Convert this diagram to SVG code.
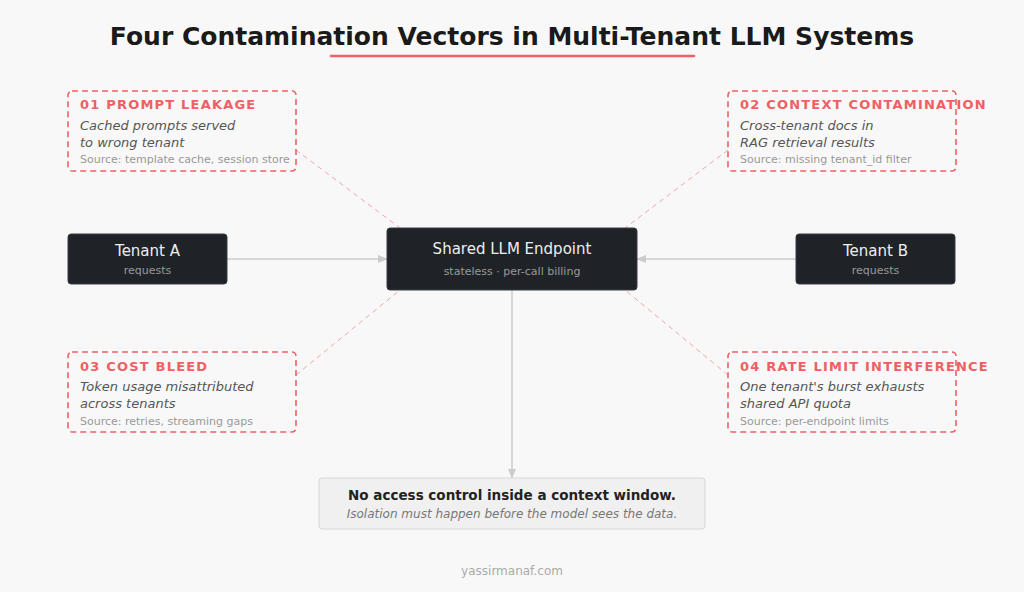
<svg xmlns="http://www.w3.org/2000/svg" width="1024" height="592" viewBox="0 0 1024 592">
<style>
text{font-family:"DejaVu Sans",sans-serif}
.vec{fill:none;stroke:#ef5f63;stroke-width:1.6;stroke-dasharray:6 4}
.vt{fill:#ef5f63;font-weight:bold;font-size:13px;letter-spacing:1.2px}
.vd{fill:#555;font-style:italic;font-size:13px}
.vs{fill:#999;font-size:11px}
.dark{fill:#1f2328;stroke:#3a3f45}
.nt{fill:#eee;font-size:15px;text-anchor:middle}
.ns{fill:#999;font-size:11px;text-anchor:middle}
.ln{stroke:#ccc;stroke-width:1.5;fill:none}
.dl{stroke:#f4a5a7;stroke-width:1;stroke-dasharray:5 4;fill:none}
</style>
<defs><marker id="ah" viewBox="0 0 10 10" refX="9" refY="5" markerWidth="7" markerHeight="7" orient="auto"><path d="M0,1L10,5L0,9z" fill="#ccc"/></marker></defs>
<rect width="1024" height="592" fill="#f8f8f8"/>
<text x="512" y="45" text-anchor="middle" font-size="25" font-weight="bold" fill="#1a1a1a">Four Contamination Vectors in Multi-Tenant LLM Systems</text>
<line x1="331" y1="56" x2="694" y2="56" stroke="#ef5f63" stroke-width="2.5" stroke-linecap="round"/>
<g id="connectors">
<line class="dl" x1="296" y1="150" x2="400" y2="228"/>
<line class="dl" x1="728" y1="150" x2="625" y2="228"/>
<line class="dl" x1="296" y1="375" x2="400" y2="290"/>
<line class="dl" x1="728" y1="375" x2="625" y2="290"/>
<line class="ln" x1="227" y1="259" x2="387" y2="259" marker-end="url(#ah)"/>
<line class="ln" x1="796" y1="259" x2="637" y2="259" marker-end="url(#ah)"/>
<line class="ln" x1="512" y1="290" x2="512" y2="478" marker-end="url(#ah)"/>
</g>
<g id="v1"><rect class="vec" x="68" y="91" width="228" height="80" rx="4"/>
<text class="vt" x="80" y="109">01 PROMPT LEAKAGE</text>
<text class="vd" x="80" y="130">Cached prompts served</text>
<text class="vd" x="80" y="147">to wrong tenant</text>
<text class="vs" x="80" y="163">Source: template cache, session store</text></g>
<g id="v2"><rect class="vec" x="728" y="91" width="228" height="80" rx="4"/>
<text class="vt" x="740" y="109">02 CONTEXT CONTAMINATION</text>
<text class="vd" x="740" y="130">Cross-tenant docs in</text>
<text class="vd" x="740" y="147">RAG retrieval results</text>
<text class="vs" x="740" y="163">Source: missing tenant_id filter</text></g>
<g id="v3"><rect class="vec" x="68" y="352" width="228" height="80" rx="4"/>
<text class="vt" x="80" y="371">03 COST BLEED</text>
<text class="vd" x="80" y="391">Token usage misattributed</text>
<text class="vd" x="80" y="408">across tenants</text>
<text class="vs" x="80" y="425">Source: retries, streaming gaps</text></g>
<g id="v4"><rect class="vec" x="728" y="352" width="228" height="80" rx="4"/>
<text class="vt" x="740" y="371">04 RATE LIMIT INTERFERENCE</text>
<text class="vd" x="740" y="391">One tenant's burst exhausts</text>
<text class="vd" x="740" y="408">shared API quota</text>
<text class="vs" x="740" y="425">Source: per-endpoint limits</text></g>
<g id="tenantA"><rect class="dark" x="68" y="234" width="159" height="50" rx="3"/>
<text class="nt" x="147.5" y="256">Tenant A</text><text class="ns" x="147.5" y="274">requests</text></g>
<g id="tenantB"><rect class="dark" x="796" y="234" width="159" height="50" rx="3"/>
<text class="nt" x="875.5" y="256">Tenant B</text><text class="ns" x="875.5" y="274">requests</text></g>
<g id="endpoint"><rect class="dark" x="387" y="228" width="250" height="62" rx="3"/>
<text class="nt" x="512" y="254" font-size="16">Shared LLM Endpoint</text><text class="ns" x="512" y="275">stateless · per-call billing</text></g>
<g id="note"><rect x="319" y="478" width="386" height="51" rx="3" fill="#f0f0f0" stroke="#d6d6d6"/>
<text x="512" y="500" text-anchor="middle" font-size="13.5" font-weight="bold" fill="#222">No access control inside a context window.</text>
<text x="512" y="518" text-anchor="middle" font-size="12" font-style="italic" fill="#777">Isolation must happen before the model sees the data.</text></g>
<text x="512" y="575" text-anchor="middle" font-size="12" fill="#aaa">yassirmanaf.com</text>
</svg>
